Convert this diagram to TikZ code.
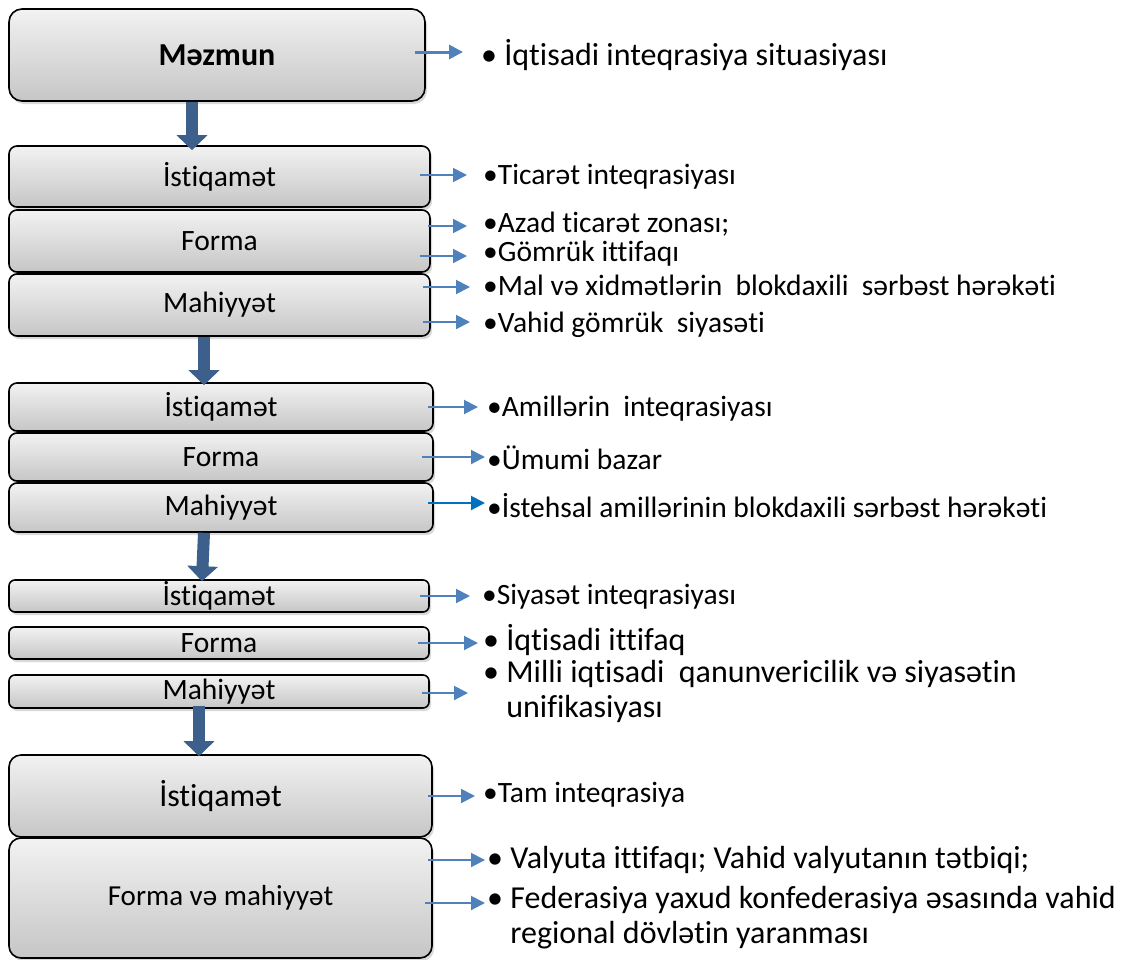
\documentclass[tikz,border=0pt]{standalone}
\usepackage{fontspec}
\setmainfont[Ligatures={NoCommon}]{Carlito}
\usetikzlibrary{arrows.meta,shadows}
\definecolor{boxtop}{RGB}{242,242,242}
\definecolor{boxbot}{RGB}{198,198,198}
\definecolor{linkblue}{RGB}{79,129,189}
\definecolor{deepblue}{RGB}{0,112,192}
\definecolor{darkblue}{RGB}{60,95,140}
\tikzset{font=\fontsize{29.5}{33}\selectfont}
\tikzstyle{box}=[draw=black, line width=1.6pt, rounded corners=8pt, top color=boxtop, bottom color=boxbot, drop shadow={shadow xshift=2pt, shadow yshift=-3pt, opacity=0.3}, inner sep=0pt]
\tikzstyle{item}=[anchor=west, inner sep=0pt, align=left]
\tikzstyle{big}=[font=\fontsize{32}{35}\selectfont]
\tikzstyle{link}=[draw=linkblue, line width=2pt, -{Triangle[length=14pt,width=14pt]}]
\tikzstyle{down}=[draw=darkblue, line width=12pt, -{Triangle[length=15pt,width=30pt]}]

\begin{document}
\begin{tikzpicture}[x=1pt, y=-1pt]
	\useasboundingbox (0,0) rectangle (1122,959);
	% boxes on the left
	\node [box, minimum width=416pt, minimum height=92pt, rounded corners=13pt, font=\fontsize{32}{35}\selectfont\bfseries] (mezmun) at (217,55) {Məzmun};
	\node [box, minimum width=421pt, minimum height=61pt] (istiq1) at (219.5,176.5) {İstiqamət};
	\node [box, minimum width=421pt, minimum height=62pt] (forma1) at (219.5,241) {Forma};
	\node [box, minimum width=421pt, minimum height=62pt] (mahiy1) at (219.5,305) {Mahiyyət};
	\node [box, minimum width=424pt, minimum height=48pt] (istiq2) at (221,407) {İstiqamət};
	\node [box, minimum width=424pt, minimum height=48pt] (forma2) at (221,457) {Forma};
	\node [box, minimum width=424pt, minimum height=49pt] (mahiy2) at (221,507.5) {Mahiyyət};
	\node [box, minimum width=420pt, minimum height=32pt, rounded corners=6pt] (istiq3) at (219,596) {İstiqamət};
	\node [box, minimum width=420pt, minimum height=32pt, rounded corners=6pt] (forma3) at (219,643) {Forma};
	\node [box, minimum width=420pt, minimum height=33pt, rounded corners=6pt] (mahiy3) at (219,691.5) {Mahiyyət};
	\node [box, big, minimum width=423pt, minimum height=82pt, rounded corners=12pt] (istiq4) at (220.5,796) {İstiqamət};
	\node [box, minimum width=423pt, minimum height=120pt, rounded corners=12pt, font=\fontsize{29}{33}\selectfont] (formam) at (220.5,898) {Forma və mahiyyət};

	% texts on the right
	\node [item, big] (t0) at (481,55) {• İqtisadi inteqrasiya situasiyası};
	\node [item] (t1) at (483,177) {•Ticarət inteqrasiyası};
	\node [item] (t2) at (483,224) {•Azad ticarət zonası;};
	\node [item] (t3) at (483,254) {•Gömrük ittifaqı};
	\node [item] (t4) at (483,285) {•Mal və xidmətlərin\ \ blokdaxili\ \ sərbəst hərəkəti};
	\node [item] (t5) at (483,325) {•Vahid gömrük\ \ siyasəti};
	\node [item] (t6) at (487,409) {•Amillərin\ \ inteqrasiyası};
	\node [item] (t7) at (487,458) {•Ümumi bazar};
	\node [item] (t8) at (487,506) {•İstehsal amillərinin blokdaxili sərbəst hərəkəti};
	\node [item] (t9) at (482,597) {•Siyasət inteqrasiyası};
	\node [item, big] (t10) at (483,640) {• İqtisadi ittifaq};
	\node [item, big] (t11) at (483,693) {\begin{tabular}{@{}l@{\ }l@{}}•&Milli iqtisadi\ \ qanunvericilik və siyasətin\\&unifikasiyası\end{tabular}};
	\node [item] (t12) at (483,795) {•Tam inteqrasiya};
	\node [item, big] (t13) at (487,860) {• Valyuta ittifaqı; Vahid valyutanın tətbiqi;};
	\node [item, big] (t14) at (487,919) {\begin{tabular}{@{}l@{\ }l@{}}•&Federasiya yaxud konfederasiya əsasında vahid\\&regional dövlətin yaranması\end{tabular}};

	% start points of the small arrows
	\coordinate (s0) at (415,52);
	\coordinate (s1) at (420,175);
	\coordinate (s2) at (428,226);
	\coordinate (s3) at (420,256);
	\coordinate (s4) at (423,287);
	\coordinate (s5) at (423,322);
	\coordinate (s6) at (428,407);
	\coordinate (s7) at (422,457);
	\coordinate (s8) at (428,503);
	\coordinate (s9) at (420,596);
	\coordinate (s10) at (418,643);
	\coordinate (s11) at (422,693);
	\coordinate (s12) at (428,796);
	\coordinate (s13) at (428,860);
	\coordinate (s14) at (425,903);

	\draw [link, line width=3pt, shorten >=18pt] (s0) -- (s0 -| t0.west);
	\draw [link, shorten >=16pt] (s1) -- (s1 -| t1.west);
	\draw [link, shorten >=16pt] (s2) -- (s2 -| t2.west);
	\draw [link, shorten >=16pt] (s3) -- (s3 -| t3.west);
	\draw [link, shorten >=13pt] (s4) -- (s4 -| t4.west);
	\draw [link, shorten >=13pt] (s5) -- (s5 -| t5.west);
	\draw [link, shorten >=9pt] (s6) -- (s6 -| t6.west);
	\draw [link, shorten >=2pt] (s7) -- (s7 -| t7.west);
	\draw [link, draw=deepblue, shorten >=2pt] (s8) -- (s8 -| t8.west);
	\draw [link, shorten >=12pt] (s9) -- (s9 -| t9.west);
	\draw [link, shorten >=5pt] (s10) -- (s10 -| t10.west);
	\draw [link, shorten >=15pt] (s11) -- (s11 -| t11.west);
	\draw [link, shorten >=8pt] (s12) -- (s12 -| t12.west);
	\draw [link, shorten >=2pt] (s13) -- (s13 -| t13.west);
	\draw [link, shorten >=2pt] (s14) -- (s14 -| t14.west);

	% thick arrows between the groups
	\draw [down, shorten >=-5pt] ([xshift=-25pt]mezmun.south) -- ([xshift=-27.5pt]istiq1.north);
	\draw [down, shorten >=-3pt] ([xshift=-15.5pt]mahiy1.south) -- ([xshift=-17pt]istiq2.north);
	\draw [down, shorten >=-2pt] ([xshift=-17pt]mahiy2.south) -- ([xshift=-17pt]istiq3.north);
	\draw [down, shorten <=-3pt, shorten >=-2pt] ([xshift=-20pt]mahiy3.south) -- ([xshift=-21.5pt]istiq4.north);
\end{tikzpicture}
\end{document}
